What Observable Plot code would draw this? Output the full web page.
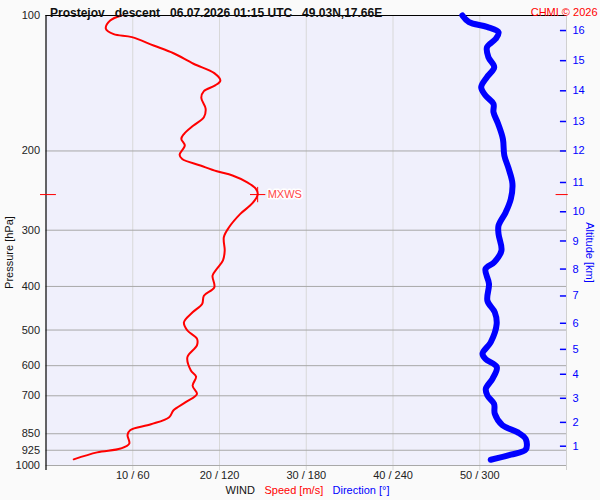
<!DOCTYPE html>
<html>
<head>
<meta charset="utf-8">
<script src="https://cdn.jsdelivr.net/npm/d3@7"></script>
<script src="https://cdn.jsdelivr.net/npm/@observablehq/plot@0.6"></script>
<style>
  html, body { margin: 0; padding: 0; background: #fafafa; }
</style>
</head>
<body>
<div id="chart"></div>
<script>
const titleText = "Prostejov\u00a0\u00a0 descent\u00a0\u00a0 06.07.2026 01:15 UTC\u00a0\u00a0 49.03N,17.66E";
const creditText = "CHMI \u00a9 2026";

const pressTicks = [100, 200, 300, 400, 500, 600, 700, 850, 925, 1000];
const speedTicks = [10, 20, 30, 40, 50];
const dirPerSpeed = 6; // 10 m/s  <->  60 deg

const altKm = [16, 15, 14, 13, 12, 11, 10, 9, 8, 7, 6, 5, 4, 3, 2, 1];
const altP  = [108, 126, 147, 172, 200, 235, 273, 317, 366, 420, 483, 552, 627, 709, 802, 906];

// wind speed profile (m/s) vs pressure (hPa)
const speedP = [100, 102.6, 107, 110, 111.7, 116.6, 121.3, 128, 134.3, 139.5, 143, 147.3, 152.4, 161, 168.3, 175.6, 183.4, 188, 194.5, 203.9, 208.3, 215.4, 221.9, 226.7, 234.8, 242.8, 250, 261.3, 276, 295.6, 311, 333, 350, 365.5, 378.5, 402, 419.5, 437.5, 456.5, 480.6, 501.2, 522.6, 540.8, 574.4, 615.1, 634.5, 665, 693.4, 723, 754, 781, 810, 835, 855, 894, 917, 935, 969];
const speedV = [8.7, 7.4, 6.9, 7.8, 9.9, 12.4, 14.7, 17.0, 19.4, 20.1, 19.5, 18.2, 17.9, 18.4, 18.2, 17.0, 15.9, 15.6, 16.0, 15.4, 15.7, 17.8, 19.7, 21.5, 23.2, 24.2, 24.4, 23.8, 22.4, 21.1, 20.5, 20.6, 20.4, 19.7, 19.2, 19.4, 18.2, 18.0, 16.9, 15.9, 16.3, 17.4, 17.4, 16.3, 16.7, 17.3, 16.9, 17.4, 16.1, 14.7, 14.2, 12.1, 9.7, 9.4, 9.6, 8.6, 5.9, 3.2];

// wind direction profile (deg) vs pressure (hPa)
const dirP = [100, 103.5, 106, 109, 112.7, 117.6, 123.8, 130.3, 137, 144.3, 150.6, 157.2, 164, 174, 188, 204.7, 219, 236.4, 255.5, 273.5, 293, 306, 333, 353.5, 365.6, 395, 430.6, 456.5, 484.8, 532.2, 564.3, 580, 604.5, 641.6, 675.5, 699, 729.4, 767.4, 814, 843, 873.5, 921.6, 946, 970.9];
const dirV = [288, 292.6, 305, 313, 311, 305, 306, 310, 305, 301, 304, 309.5, 309.5, 312.7, 316, 317, 320, 322.6, 321.5, 318, 313, 313, 315, 310, 304, 306.4, 305.3, 310.4, 311.7, 307.6, 301.9, 304, 311.8, 308.8, 304.2, 305.3, 309.9, 310.4, 315.7, 326, 331.8, 331.8, 321.5, 307.6];

const maxWindP = 250;
const maxWindV = 24.4;

const speedData = speedP.map((p, i) => ({p, v: speedV[i]}));
const dirData = dirP.map((p, i) => ({p, d: dirV[i]}));
const altData = altKm.map((k, i) => ({k, p: altP[i]}));

const font = "'Liberation Sans', Arial, sans-serif";

const chart = Plot.plot({
  width: 600,
  height: 500,
  marginLeft: 45.5,
  marginRight: 34,
  marginTop: 15,
  marginBottom: 35,
  style: {background: "#fafafa", fontFamily: font, fontSize: "11px", overflow: "visible"},
  x: {domain: [0, 60], axis: null},
  y: {type: "log", domain: [100, 1000], reverse: true, axis: null},
  marks: [
    Plot.frame({fill: "#f0f0fc", stroke: "none"}),
    Plot.ruleX(speedTicks, {stroke: "#d8d8d8", strokeWidth: 1, insetBottom: -5}),
    Plot.ruleY(pressTicks.slice(1), {stroke: "#a8a8a8", strokeWidth: 1}),
    Plot.ruleX([60], {stroke: "#d0d0d0", strokeWidth: 1, insetBottom: -5}),
    Plot.ruleY([100], {stroke: "black", strokeWidth: 1.2}),
    Plot.ruleX([0], {stroke: "black", strokeWidth: 1.2, insetBottom: -5}),
    // left pressure labels
    Plot.text(pressTicks, {y: d => d, text: d => String(d), frameAnchor: "left", dx: -6, textAnchor: "end", fill: "#222", fontSize: 11}),
    // right altitude ticks and labels
    Plot.ruleY(altData, {y: "p", x1: 59.3, x2: 60, stroke: "blue", strokeWidth: 1.5}),
    Plot.text(altData, {y: "p", text: d => String(d.k), frameAnchor: "right", dx: 6, textAnchor: "start", fill: "blue", fontSize: 11}),
    // bottom labels
    Plot.text(speedTicks, {x: d => d, text: d => `${d} / ${d * dirPerSpeed}`, frameAnchor: "bottom", dy: 13, fill: "#222", fontSize: 11}),
    // max wind markers
    Plot.ruleY([maxWindP], {x1: -0.63, x2: 1.2, stroke: "red", strokeWidth: 1}),
    Plot.ruleY([maxWindP], {x1: 58.8, x2: 60.2, stroke: "red", strokeWidth: 1}),
    // data lines
    Plot.line(speedData, {x: "v", y: "p", stroke: "#ff0000", strokeWidth: 2, curve: "catmull-rom"}),
    Plot.line(dirData, {x: d => d.d / dirPerSpeed, y: "p", stroke: "#0000ff", strokeWidth: 6, strokeLinecap: "round", strokeLinejoin: "round", curve: "catmull-rom"}),
    Plot.dot([{p: maxWindP, v: maxWindV}], {x: "v", y: "p", symbol: "plus", r: 5, stroke: "red", strokeWidth: 1}),
    Plot.text([{p: maxWindP, v: maxWindV}], {x: "v", y: "p", text: () => "MXWS", dx: 10, textAnchor: "start", fill: "#ff4848", stroke: "white", strokeWidth: 3, paintOrder: "stroke", fontSize: 11}),
    // titles
    Plot.text([titleText], {text: d => d, frameAnchor: "top-left", dx: 4, dy: -7, textAnchor: "start", fontWeight: "bold", fontSize: 12, fill: "#111"}),
    Plot.text([creditText], {text: d => d, frameAnchor: "top-right", dx: 31, dy: -7, textAnchor: "end", fill: "red", fontSize: 11}),
    Plot.text(["Pressure [hPa]"], {text: d => d, frameAnchor: "left", textAnchor: "middle", dx: -37, dy: 12, rotate: -90, fill: "#111", fontSize: 11}),
    Plot.text(["Altitude [km]"], {text: d => d, frameAnchor: "right", textAnchor: "middle", dx: 23, dy: 12, rotate: 90, fill: "blue", fontSize: 11}),
    Plot.text(["WIND"], {text: d => d, frameAnchor: "bottom-left", dx: 179.5, dy: 28, textAnchor: "start", fill: "#111", fontSize: 11}),
    Plot.text(["Speed [m/s]"], {text: d => d, frameAnchor: "bottom-left", dx: 218.5, dy: 28, textAnchor: "start", fill: "red", fontSize: 11}),
    Plot.text(["Direction [\u00b0]"], {text: d => d, frameAnchor: "bottom-left", dx: 286.5, dy: 28, textAnchor: "start", fill: "blue", fontSize: 11})
  ]
});
document.getElementById("chart").appendChild(chart);
</script>
</body>
</html>
